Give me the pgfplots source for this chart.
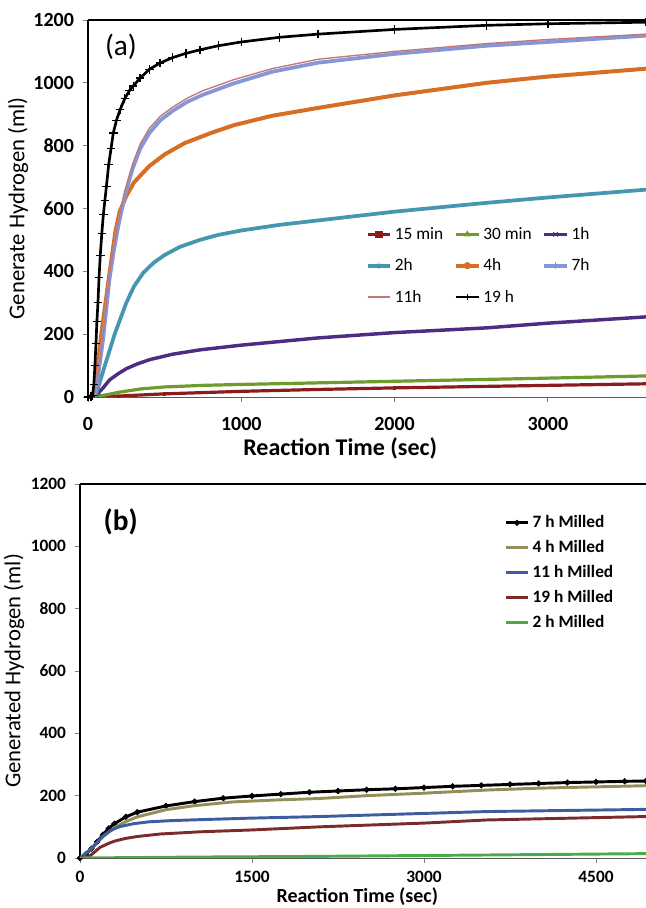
\documentclass[border=0pt]{standalone}
\usepackage{pgfplots}
\pgfplotsset{compat=1.18}
\usepackage{fontspec}
\setmainfont{Carlito}

\definecolor{cMin15}{RGB}{140,28,28}
\definecolor{cMin30}{RGB}{110,155,45}
\definecolor{cH1}{RGB}{78,44,130}
\definecolor{cH2}{RGB}{70,150,175}
\definecolor{cH4}{RGB}{215,110,35}
\definecolor{cH7}{RGB}{135,150,215}
\definecolor{cH11}{RGB}{190,120,120}
\definecolor{bOlive}{RGB}{148,143,88}
\definecolor{bBlue}{RGB}{62,92,160}
\definecolor{bRed}{RGB}{122,44,44}
\definecolor{bGreen}{RGB}{72,172,72}

\begin{document}
\begin{tikzpicture}
\path[use as bounding box] (0,0) rectangle (484.5pt,681pt);

% ---------------- panel (a)
\begin{axis}[
  scale only axis, width=418.5pt, height=282.75pt,
  at={(66pt,666pt)}, anchor=north west,
  xmin=0, xmax=3640, ymin=0, ymax=1200,
  xtick={0,1000,2000,3000}, ytick={0,200,...,1200},
  axis x line*=bottom, axis y line*=left,
  x axis line style={gray!70!black, line width=0.6pt},
  y axis line style={black, line width=0.8pt},
  tick align=outside, major tick length=4pt,
  tick style={gray, line width=0.6pt},
  /pgf/number format/assume math mode=true,
  /pgf/number format/1000 sep={},
  tick label style={font=\bfseries\fontsize{15}{15}\selectfont},
  xticklabel style={yshift=-8pt},
  yticklabel style={xshift=-3pt},
  xlabel={\bfseries Reaction Time (sec)},
  ylabel={Generate Hydrogen (ml)},
  label style={font=\fontsize{18}{18}\selectfont},
  xlabel style={at={(axis description cs:0.452,0)}, anchor=north, yshift=-27pt},
  ylabel style={yshift=-3pt, font=\fontsize{17}{17}\selectfont},
  clip mode=individual,
  legend columns=3, legend cell align=left,
  legend image post style={mark size=2.4pt},
  legend style={at={(0.49,0.465)}, anchor=north west, draw=none, fill=none,
    font=\fontsize{13}{13}\selectfont, row sep=9pt,
    /tikz/every even column/.append style={column sep=6pt}},
  every axis plot/.append style={mark options={line width=0.6pt}},
]
\draw[black, line width=0.8pt] (rel axis cs:0,1) -- (rel axis cs:1,1);
\node[font=\fontsize{22}{22}\selectfont] at (rel axis cs:0.059,0.928) {(a)};

\addplot[cMin15, line width=2.4pt, mark=square*, mark size=0.8pt] coordinates {
(0,0)(200,3)(500,10)(1000,18)(1500,24)(2000,29)(2500,33)(3000,37)(3640,42)};
\addlegendentry{15 min}
\addplot[cMin30, line width=2.4pt, mark=triangle*, mark size=0.8pt] coordinates {
(0,0)(100,5)(200,15)(350,26)(500,32)(750,37)(1000,40)(1500,45)(2000,50)(2500,55)(3000,60)(3640,67)};
\addlegendentry{30 min}
\addplot[cH1, line width=2.6pt, mark=x, mark size=0.8pt] coordinates {
(0,0)(50,3)(100,30)(142,55)(200,75)(250,90)(320,105)(403,119)(550,136)(730,150)(1000,165)(1500,188)(2000,205)(2600,220)(3000,235)(3640,255)};
\addlegendentry{1h}
\addplot[cH2, line width=2.8pt, mark=asterisk, mark size=0.8pt] coordinates {
(0,0)(50,5)(110,100)(174,200)(250,300)(300,352)(360,395)(430,428)(500,452)(600,478)(730,500)(850,516)(1000,530)(1250,548)(1500,562)(2000,590)(2600,618)(3000,635)(3640,660)};
\addlegendentry{2h}
\addplot[cH4, line width=3pt, mark=*, mark size=0.8pt] coordinates {
(0,0)(40,5)(87,200)(142,400)(180,530)(207,590)(250,640)(300,683)(400,735)(500,772)(630,808)(800,840)(950,865)(1200,895)(1500,920)(2000,960)(2600,1000)(3000,1020)(3640,1045)};
\addlegendentry{4h}
\addplot[cH7, line width=2.8pt, mark=+, mark size=0.8pt] coordinates {
(0,0)(40,5)(60,45)(100,190)(140,375)(170,470)(200,550)(240,640)(290,725)(340,790)(400,840)(470,880)(550,910)(650,940)(750,962)(950,998)(1200,1035)(1500,1064)(2000,1092)(2600,1118)(3000,1130)(3640,1150)};
\addlegendentry{7h}
\addplot[cH11, line width=1pt] coordinates {
(0,0)(40,5)(60,50)(100,200)(140,390)(170,485)(200,565)(240,655)(290,740)(340,805)(400,855)(470,893)(550,922)(650,952)(750,975)(950,1010)(1200,1045)(1500,1075)(2000,1100)(2600,1125)(3000,1138)(3640,1155)};
\addlegendentry{11h}
\addplot[black, line width=2pt, mark=+, mark size=3.2pt, mark options={line width=1pt}] coordinates {
(0,0)(20,2)(30,5)(38,40)(45,100)(52,170)(58,240)(65,300)(72,380)(80,450)(90,520)(100,580)(110,625)(120,670)(135,740)(150,790)(165,840)(185,880)(210,915)(240,950)(270,975)(295,990)(340,1015)(400,1043)(470,1063)(550,1080)(640,1094)(730,1105)(850,1118)(1000,1130)(1250,1145)(1500,1155)(2000,1170)(2600,1183)(3000,1188)(3640,1193)};
\addlegendentry{19 h}
\end{axis}

% ---------------- panel (b)
\begin{axis}[
  scale only axis, width=424.5pt, height=280.5pt,
  at={(60pt,318pt)}, anchor=north west,
  xmin=0, xmax=4936, ymin=0, ymax=1200,
  xtick={0,1500,3000,4500}, ytick={0,200,...,1200},
  axis x line*=bottom, axis y line*=left,
  x axis line style={gray!70!black, line width=0.6pt},
  y axis line style={black, line width=2.2pt},
  tick align=outside, major tick length=4pt,
  tick style={gray, line width=0.6pt},
  /pgf/number format/assume math mode=true,
  /pgf/number format/1000 sep={},
  tick label style={font=\bfseries\fontsize{13}{13}\selectfont},
  xticklabel style={yshift=-5pt, inner sep=1pt},
  yticklabel style={xshift=-3pt},
  xlabel={\bfseries Reaction Time (sec)},
  ylabel={Generated Hydrogen (ml)},
  xlabel style={font=\fontsize{15}{15}\selectfont, inner sep=1pt, at={(axis description cs:0.49,0)}, anchor=north, yshift=-21pt},
  ylabel style={font=\fontsize{17}{17}\selectfont, yshift=-2pt},
  clip mode=individual,
  legend cell align=left,
  legend style={at={(0.742,0.93)}, anchor=north west, draw=none, fill=none,
    font=\bfseries\fontsize{13}{13}\selectfont, row sep=4pt},
  every axis plot/.append style={line width=2.2pt},
]
\draw[black, line width=2.2pt] (rel axis cs:0,1) -- (rel axis cs:1,1);
\node[font=\bfseries\fontsize{22}{22}\selectfont] at (rel axis cs:0.072,0.898) {(b)};

\addplot[black, mark=*, mark size=0.9pt] coordinates {
(0,0)(50,12)(100,30)(150,52)(200,75)(250,95)(300,110)(400,132)(500,147)(750,167)(1000,181)(1250,192)(1500,199)(1750,205)(2000,211)(2250,215)(2500,219)(2750,222)(3000,226)(3250,230)(3500,233)(3750,236)(4000,239)(4250,242)(4500,244)(4750,246)(4936,247)};
\addlegendentry{7 h Milled}
\addplot[bOlive] coordinates {
(0,0)(100,30)(150,50)(200,68)(300,97)(400,117)(500,132)(750,155)(1000,168)(1337,180)(1700,186)(2092,191)(2500,200)(3000,208)(3546,218)(4000,224)(4936,232)};
\addlegendentry{4 h Milled}
\addplot[bBlue] coordinates {
(0,0)(100,30)(150,50)(200,70)(250,84)(300,94)(350,101)(465,110)(600,116)(800,120)(1046,123)(1500,128)(2092,133)(3000,143)(3546,149)(4936,156)};
\addlegendentry{11 h Milled}
\addplot[bRed] coordinates {
(0,0)(80,5)(130,20)(174,34)(250,47)(300,54)(400,63)(500,69)(700,77)(1046,84)(1500,90)(2092,100)(3000,112)(3546,122)(4936,133)};
\addlegendentry{19 h Milled}
\addplot[bGreen] coordinates {
(0,0)(1000,3)(2000,5)(3000,8)(4000,11)(4936,14)};
\addlegendentry{2 h Milled}
\end{axis}
\end{tikzpicture}
\end{document}
